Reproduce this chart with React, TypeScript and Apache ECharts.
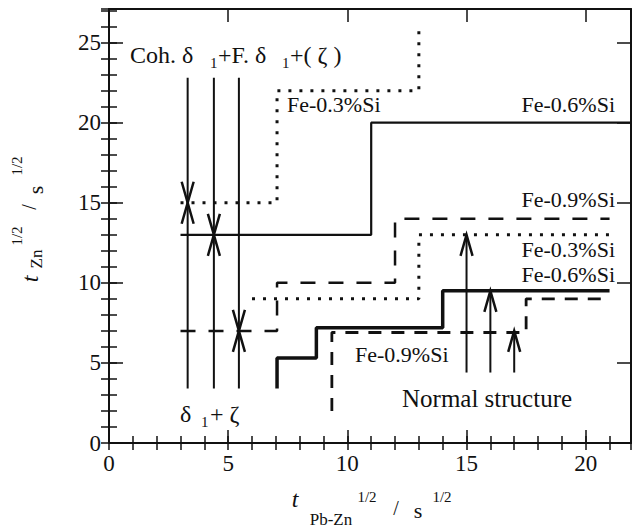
import React, { useEffect, useRef } from "react";
import * as echarts from "echarts";

// ---- axis extents & ticks ----
const X_MIN = 0;
const X_MAX = 21.9;
const Y_MIN = 0;
const Y_MAX = 27.1;
const MAJOR = 5;
const MINOR = 1;

// ---- step curves (x = t_Pb-Zn^1/2, y = t_Zn^1/2) ----
const fe03Upper = [[3, 15], [7.05, 15], [7.05, 22], [13, 22], [13, 25.8]];
const fe06Upper = [[3, 13], [11, 13], [11, 20], [21.9, 20]];
const fe09Upper = [[3, 7], [7.05, 7], [7.05, 10], [12, 10], [12, 14], [21, 14]];
const fe03Lower = [[6, 9], [13, 9], [13, 13], [21, 13]];
const fe06Lower = [[7.05, 3.4], [7.05, 5.3], [8.7, 5.3], [8.7, 7.2], [14, 7.2], [14, 9.5], [21, 9.5]];
const fe09Lower = [[9.35, 2], [9.35, 6.9], [17.5, 6.9], [17.5, 9], [21, 9]];

// ---- vertical marker lines ----
const upperArrowX = [3.3, 4.4, 5.45];
const upperArrowYRange = [3.4, 22.8];
const lowerArrowX = [15, 16, 17];
const lowerArrowTipY = [13, 9.5, 7];
const lowerArrowBaseY = 4.4;

// arrow heads: [x, tipY, dir]  dir 1 = points up, -1 = points down
const arrowHeads = [
  [3.3, 15, -1], [3.3, 15, 1],
  [4.4, 13, -1], [4.4, 13, 1],
  [5.45, 7, -1], [5.45, 7, 1],
  [15, 13, 1], [16, 9.5, 1], [17, 7, 1],
];

const INK = "#111";
const FONT = "Liberation Serif";

function lineSeries(data: number[][], style: any) {
  return {
    type: "line",
    data,
    symbol: "none",
    showSymbol: false,
    silent: true,
    lineStyle: { color: INK, ...style },
    xAxisIndex: 0,
    yAxisIndex: 0,
  };
}

function txt(text: string, x: number, y: number, size: number, align = "left", extra: any = {}) {
  const { italic, ...rest } = extra;
  return {
    type: "text",
    x,
    y,
    silent: true,
    ...rest,
    style: {
      text,
      fontSize: size,
      fontFamily: FONT,
      fontStyle: italic ? "italic" : "normal",
      fill: INK,
      align,
      textAlign: align,
      verticalAlign: "middle",
      textVerticalAlign: "middle",
    },
  };
}

export default function App() {
  const ref = useRef<HTMLDivElement>(null);

  useEffect(() => {
    document.body.style.margin = "0";
    const chart = echarts.init(ref.current!, null, { renderer: "svg" });

    const fmt = (v: number) => (Math.abs(v / MAJOR - Math.round(v / MAJOR)) < 1e-6 ? String(Math.round(v)) : "");

    const axisCommon = {
      type: "value",
      splitLine: { show: false },
      axisLine: { show: true, onZero: false, lineStyle: { color: INK, width: 2 } },
    };
    const labelStyle = { color: INK, fontSize: 23, fontFamily: FONT, formatter: fmt };

    const xAx = (position: string, major: boolean) => ({
      ...axisCommon,
      position,
      min: X_MIN,
      max: X_MAX,
      interval: major ? MAJOR : MINOR,
      axisLine: major ? axisCommon.axisLine : { show: false },
      axisTick: { show: true, inside: true, length: major ? 13 : 7, lineStyle: { color: INK, width: 1.5 } },
      axisLabel: major && position === "bottom" ? { ...labelStyle, margin: 9 } : { show: false },
    });
    const yAx = (position: string, major: boolean) => ({
      ...axisCommon,
      position,
      min: Y_MIN,
      max: Y_MAX,
      interval: major ? MAJOR : MINOR,
      axisLine: major ? axisCommon.axisLine : { show: false },
      axisTick: { show: true, inside: true, length: major ? 14 : 8, lineStyle: { color: INK, width: 1.5 } },
      axisLabel: major && position === "left" ? { ...labelStyle, margin: 8 } : { show: false },
    });

    const series: any[] = [
      lineSeries(fe03Upper, { width: 3, type: [3, 8] }),
      lineSeries(fe06Upper, { width: 2.2, type: "solid" }),
      lineSeries(fe09Upper, { width: 2.5, type: [15, 13] }),
      lineSeries(fe03Lower, { width: 3, type: [3, 8] }),
      lineSeries(fe06Lower, { width: 3.5, type: "solid" }),
      lineSeries(fe09Lower, { width: 2.8, type: [13, 10] }),
    ];
    upperArrowX.forEach((x) => {
      series.push(lineSeries([[x, upperArrowYRange[0]], [x, upperArrowYRange[1]]], { width: 2, type: "solid" }));
    });
    lowerArrowX.forEach((x, i) => {
      series.push(lineSeries([[x, lowerArrowBaseY], [x, lowerArrowTipY[i]]], { width: 2, type: "solid" }));
    });
    series.push({
      type: "custom",
      xAxisIndex: 0,
      yAxisIndex: 0,
      silent: true,
      data: arrowHeads,
      renderItem: (_p: any, api: any) => {
        const p = api.coord([api.value(0), api.value(1)]);
        const d = api.value(2);
        const len = 21;
        const hw = 6;
        return {
          type: "polyline",
          shape: { points: [[p[0] - hw, p[1] + d * len], [p[0], p[1]], [p[0] + hw, p[1] + d * len]] },
          style: { stroke: INK, lineWidth: 2.5, fill: null },
        };
      },
    });

    const graphic: any[] = [
      // top-left annotation
      txt("Coh. δ", 130, 55, 24),
      txt("1", 210, 63, 15),
      txt("+F. δ", 218, 55, 24),
      txt("1", 282, 63, 15),
      txt("+( ζ )", 290, 55, 24),
      // bottom-left annotation
      txt("δ", 180, 414, 24),
      txt("1", 201, 422, 15),
      txt("+ ζ", 210, 414, 24),
      // alloy labels
      txt("Fe-0.3%Si", 287, 104.5, 22),
      txt("Fe-0.6%Si", 615, 104.5, 22, "right"),
      txt("Fe-0.9%Si", 615, 199.5, 22, "right"),
      txt("Fe-0.3%Si", 615, 249.5, 22, "right"),
      txt("Fe-0.6%Si", 615, 274.5, 22, "right"),
      txt("Fe-0.9%Si", 355, 354.5, 22),
      txt("Normal structure", 402, 398.5, 25),
      // x axis title
      txt("t", 295, 499, 24, "center", { italic: true }),
      txt("Pb-Zn", 331, 519, 17, "center"),
      txt("1/2", 367, 497, 15, "center"),
      txt("/", 396, 508, 20, "center"),
      txt("s", 418, 510, 22, "center"),
      txt("1/2", 442, 497, 15, "center"),
      // y axis title (rotated)
      txt("t", 30, 279, 24, "center", { italic: true, rotation: Math.PI / 2 }),
      txt("Zn", 36, 259, 17, "center", { rotation: Math.PI / 2 }),
      txt("1/2", 17, 236, 15, "center", { rotation: Math.PI / 2 }),
      txt("/", 29, 207, 20, "center", { rotation: Math.PI / 2 }),
      txt("s", 35, 190, 22, "center", { rotation: Math.PI / 2 }),
      txt("1/2", 17, 166, 15, "center", { rotation: Math.PI / 2 }),
    ];

    chart.setOption({
      animation: false,
      backgroundColor: "#fff",
      textStyle: { fontFamily: FONT },
      grid: { left: 109, right: 1, top: 9, bottom: 88, containLabel: false },
      xAxis: [xAx("bottom", true), xAx("bottom", false), xAx("top", true), xAx("top", false)],
      yAxis: [yAx("left", true), yAx("left", false), yAx("right", true), yAx("right", false)],
      series,
      graphic,
    });

    return () => chart.dispose();
  }, []);

  return <div ref={ref} style={{ position: "fixed", left: 0, top: 0, width: 634, height: 531 }} />;
}
